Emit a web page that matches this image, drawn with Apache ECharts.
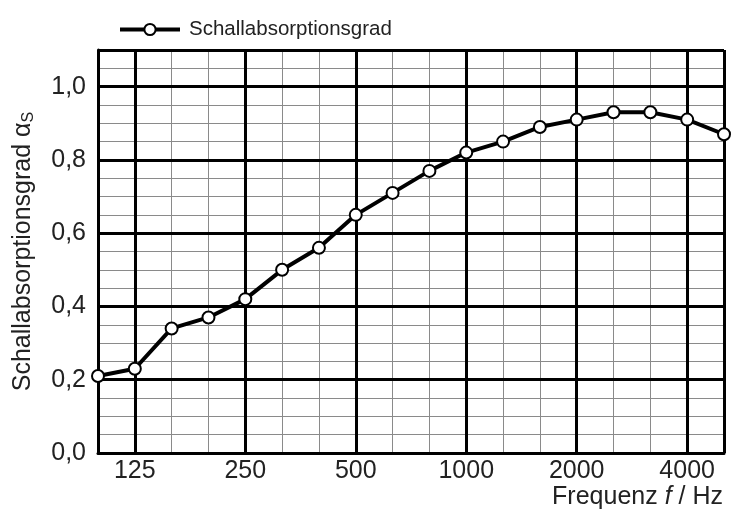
<!DOCTYPE html>
<html>
<head>
<meta charset="utf-8">
<script src="https://cdn.jsdelivr.net/npm/echarts@6/dist/echarts.min.js"></script>
<style>
  html, body { margin: 0; padding: 0; background: #fff; }
  #chart { width: 736px; height: 515px; }
</style>
</head>
<body>
<div id="chart"></div>
<script>
// Terzband-Mittenfrequenzen in Hz
const frequencies = ['100', '125', '160', '200', '250', '315', '400', '500', '630', '800',
  '1000', '1250', '1600', '2000', '2500', '3150', '4000', '5000']
// nur Oktaven werden beschriftet
const labeledFreqs = ['125', '250', '500', '1000', '2000', '4000']
const absorption = [0.21, 0.23, 0.34, 0.37, 0.42, 0.50, 0.56, 0.65, 0.71, 0.77,
  0.82, 0.85, 0.89, 0.91, 0.93, 0.93, 0.91, 0.87]

const chart = echarts.init(document.getElementById('chart'))
const font = 'Liberation Sans, Arial, sans-serif'
const thin = { color: '#8a8a8a', width: 1 }
const thick = { color: '#000', width: 3 }

const option = {
  animation: false,
  textStyle: { fontFamily: font },
  legend: {
    data: ['Schallabsorptionsgrad'],
    left: 113,
    top: 14,
    itemWidth: 60,
    itemHeight: 14,
    itemStyle: { borderWidth: 2 },
    lineStyle: { width: 4 },
    textStyle: { fontSize: 20.5, color: '#222', fontFamily: font, padding: [0, 0, 0, 4] }
  },
  grid: { left: 98, right: 12, top: 50, bottom: 62 },
  xAxis: [
    {
      type: 'category',
      data: frequencies,
      boundaryGap: false,
      axisLine: { show: true, lineStyle: thick },
      axisTick: { show: false },
      axisLabel: {
        interval: (i, v) => labeledFreqs.includes(v),
        fontSize: 25, color: '#222', margin: 6
      },
      splitLine: {
        show: true,
        interval: (i, v) => labeledFreqs.includes(v) || i === 0 || i === frequencies.length - 1,
        lineStyle: thick
      },
      name: '{n|Frequenz }{i|f}{n| / Hz}',
      nameLocation: 'end',
      nameGap: -1,
      nameTextStyle: {
        align: 'right', verticalAlign: 'top', padding: [32, 0, 0, 0],
        rich: {
          n: { fontSize: 25, color: '#222', fontFamily: font },
          i: { fontSize: 25, color: '#222', fontStyle: 'italic', fontFamily: font }
        }
      },
      z: 3
    },
    {
      type: 'category',
      data: frequencies,
      boundaryGap: false,
      position: 'bottom',
      axisLine: { show: false },
      axisTick: { show: false },
      axisLabel: { show: false },
      splitLine: { show: true, interval: 0, lineStyle: thin },
      z: 1
    }
  ],
  yAxis: [
    {
      type: 'value',
      min: 0,
      max: 1.1,
      interval: 0.2,
      axisLine: { show: true, lineStyle: thick },
      axisTick: { show: false },
      axisLabel: {
        fontSize: 25, color: '#222', margin: 12,
        formatter: v => (v > 1.05 ? '' : v.toFixed(1).replace('.', ','))
      },
      splitLine: { show: true, lineStyle: thick },
      name: '{n|Schallabsorptionsgrad α}{s|S}',
      nameLocation: 'middle',
      nameGap: 61,
      nameTextStyle: {
        rich: {
          n: { fontSize: 25, color: '#222', fontFamily: font },
          s: { fontSize: 16, color: '#222', fontFamily: font, padding: [12, 0, 0, 0] }
        }
      },
      z: 3
    },
    {
      type: 'value',
      min: 0,
      max: 1.1,
      interval: 0.05,
      position: 'left',
      axisLine: { show: false },
      axisTick: { show: false },
      axisLabel: { show: false },
      splitLine: { show: true, lineStyle: thin },
      z: 1
    }
  ],
  series: [
    {
      name: 'Schallabsorptionsgrad',
      type: 'line',
      data: absorption,
      symbol: 'circle',
      symbolSize: 12,
      lineStyle: { color: '#000', width: 4 },
      itemStyle: { color: '#fff', borderColor: '#000', borderWidth: 2 },
      z: 5
    }
  ]
}

chart.setOption(option)
</script>
</body>
</html>
